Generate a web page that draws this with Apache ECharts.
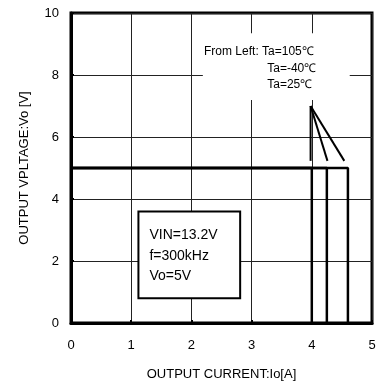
<!DOCTYPE html>
<html><head><meta charset="utf-8">
<script src="https://cdn.jsdelivr.net/npm/echarts@6/dist/echarts.min.js"></script>
<style>html,body{margin:0;padding:0;background:#fff}#c{width:380px;height:387px}</style>
</head><body><div id="c"></div>
<script>
// Data
const xTicks = [0, 1, 2, 3, 4, 5];
const yTicks = [0, 2, 4, 6, 8, 10];
const outputVoltage = 5;
const limitCurrents = [4.0, 4.25, 4.6]; // Ta=105, -40, 25 °C
const pointerOrigin = [3.98, 7.0];
const pointerEnds = [[3.98, 5.23], [4.26, 5.23], [4.54, 5.23]];
const annotationLines = ['From Left: Ta=105℃', 'Ta=-40℃', 'Ta=25℃'];
const annotationAnchors = [[2.21, 8.74], [3.26, 8.19], [3.26, 7.68]];
const annotationBg = [[2.19, 9.35], [4.63, 7.19]];
const condLines = ['VIN=13.2V', 'f=300kHz', 'Vo=5V'];
const condBox = [[1.12, 3.6], [2.81, 0.8]];

const FONT = '"Liberation Sans", Arial, sans-serif';
const chart = echarts.init(document.getElementById('c'), null, {renderer: 'canvas'});

const series = [];
limitCurrents.forEach(function (c) {
  series.push({
    type: 'line', symbol: 'none', silent: true, z: 5,
    lineStyle: {color: '#000', width: 2.5},
    data: [[0, outputVoltage], [c, outputVoltage], [c, 0]]
  });
});
pointerEnds.forEach(function (p) {
  series.push({
    type: 'line', symbol: 'none', silent: true, z: 5,
    lineStyle: {color: '#000', width: 2},
    data: [pointerOrigin, p]
  });
});

chart.setOption({
  animation: false,
  grid: {left: 71, right: 8, top: 13, bottom: 64, show: true, borderColor: '#000', borderWidth: 3, backgroundColor: 'transparent'},
  xAxis: {
    type: 'value', min: 0, max: 5, interval: 1,
    name: 'OUTPUT CURRENT:Io[A]', nameLocation: 'middle', nameGap: 45,
    nameTextStyle: {fontFamily: FONT, fontSize: 13, color: '#000'},
    axisLine: {lineStyle: {color: '#000', width: 3}},
    axisTick: {show: true, inside: true, length: 3, lineStyle: {color: '#000', width: 2}},
    axisLabel: {fontFamily: FONT, fontSize: 13, color: '#000', margin: 16},
    splitLine: {show: true, lineStyle: {color: '#222', width: 1}}
  },
  yAxis: {
    type: 'value', min: 0, max: 10, interval: 2,
    name: 'OUTPUT VPLTAGE:Vo [V]', nameLocation: 'middle', nameGap: 40,
    nameTextStyle: {fontFamily: FONT, fontSize: 13, color: '#000'},
    axisLine: {show: true, lineStyle: {color: '#000', width: 3}},
    axisTick: {show: true, inside: true, length: 3, lineStyle: {color: '#000', width: 2}},
    axisLabel: {fontFamily: FONT, fontSize: 13, color: '#000', margin: 12},
    splitLine: {show: true, lineStyle: {color: '#222', width: 1}}
  },
  series: series
});

function px(p) { return chart.convertToPixel({gridIndex: 0}, p); }
const bg0 = px(annotationBg[0]), bg1 = px(annotationBg[1]);
const b0 = px(condBox[0]), b1 = px(condBox[1]);
const graphics = [];
graphics.push({type: 'rect', z: 3, silent: true,
  shape: {x: bg0[0], y: bg0[1], width: bg1[0] - bg0[0], height: bg1[1] - bg0[1]},
  style: {fill: '#fff'}});
annotationLines.forEach(function (t, i) {
  const p = px(annotationAnchors[i]);
  graphics.push({type: 'text', z: 10, silent: true, x: p[0], y: p[1],
    style: {text: t, fill: '#000', font: '12px ' + FONT, textVerticalAlign: 'middle', verticalAlign: 'middle'}});
});
graphics.push({type: 'rect', z: 10, silent: true,
  shape: {x: b0[0], y: b0[1], width: b1[0] - b0[0], height: b1[1] - b0[1]},
  style: {fill: '#fff', stroke: '#000', lineWidth: 2}});
condLines.forEach(function (t, i) {
  graphics.push({type: 'text', z: 11, silent: true, x: b0[0] + 11, y: b0[1] + 24 + i * 20.5,
    style: {text: t, fill: '#000', font: '14px ' + FONT, verticalAlign: 'middle'}});
});
chart.setOption({graphic: graphics});
</script>
</body></html>
